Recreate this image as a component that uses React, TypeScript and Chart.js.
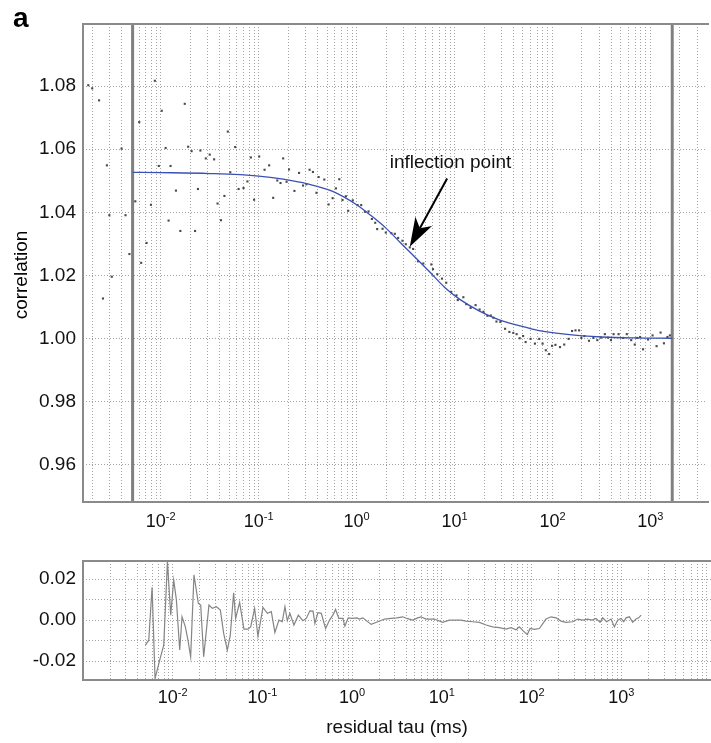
import React, { useEffect, useRef } from "react";
import { Chart, registerables } from "chart.js";

Chart.register(...registerables);

const FONT = "'Liberation Sans', Arial, Helvetica, sans-serif";

// ---------------- data ----------------
// correlation scatter: log10(tau / ms) and correlation value
const corrLogTau = [
  -2.74, -2.7, -2.63, -2.59, -2.55, -2.525, -2.5, -2.4, -2.36, -2.32, -2.26, -2.22, -2.2, -2.145, -2.1, -2.06,
  -2.02, -1.99, -1.95, -1.92, -1.9, -1.845, -1.8, -1.755, -1.72, -1.685, -1.65, -1.62, -1.595, -1.54, -1.5,
  -1.455, -1.42, -1.385, -1.35, -1.315, -1.29, -1.24, -1.205, -1.155, -1.115, -1.08, -1.047, -0.995, -0.94,
  -0.893, -0.852, -0.81, -0.777, -0.75, -0.715, -0.69, -0.635, -0.588, -0.547, -0.513, -0.48, -0.446, -0.41,
  -0.388, -0.33, -0.286, -0.245, -0.211, -0.177, -0.144, -0.11, -0.086, -0.039, 0.01, 0.047, 0.085, 0.122,
  0.156, 0.19, 0.21, 0.265, 0.298, 0.355, 0.39, 0.424, 0.468, 0.502, 0.543, 0.577, 0.627, 0.681, 0.763, 0.78,
  0.824, 0.872, 0.915, 0.966, 1.02, 1.033, 1.09, 1.12, 1.164, 1.215, 1.256, 1.295, 1.336, 1.37, 1.397, 1.428,
  1.468, 1.516, 1.56, 1.6, 1.634, 1.665, 1.7, 1.726, 1.776, 1.821, 1.865, 1.899, 1.932, 1.966, 1.996, 2.03,
  2.077, 2.12, 2.165, 2.2, 2.235, 2.272, 2.295, 2.326, 2.373, 2.418, 2.458, 2.494, 2.535, 2.566, 2.597, 2.624,
  2.675, 2.722, 2.759, 2.804, 2.84, 2.865, 2.895, 2.925, 2.976, 3.022, 3.063, 3.104, 3.138, 3.174, 3.199,
];
const corrValue = [
  1.0803, 1.0793, 1.0755, 1.0127, 1.0549, 1.0391, 1.0196, 1.0602, 1.0391, 1.0268, 1.0435, 1.0686, 1.024, 1.0303,
  1.0424, 1.0817, 1.0547, 1.0722, 1.0604, 1.0374, 1.0547, 1.0469, 1.0341, 1.0744, 1.0608, 1.0594, 1.0341, 1.0474,
  1.0596, 1.0571, 1.0583, 1.0568, 1.0428, 1.0375, 1.0452, 1.0656, 1.0527, 1.0607, 1.0474, 1.0477, 1.0498, 1.0574,
  1.044, 1.0577, 1.0535, 1.0549, 1.0446, 1.0501, 1.0493, 1.0571, 1.0497, 1.0536, 1.0468, 1.0525, 1.0485, 1.0489,
  1.0535, 1.0528, 1.0462, 1.0512, 1.0504, 1.0425, 1.0445, 1.0476, 1.0505, 1.0439, 1.0451, 1.0405, 1.0438, 1.0423,
  1.0423, 1.0402, 1.0403, 1.0379, 1.0367, 1.0347, 1.0348, 1.0336, 1.0334, 1.0332, 1.0319, 1.031, 1.0299, 1.0289,
  1.0284, 1.0245, 1.0238, 1.0235, 1.022, 1.0204, 1.019, 1.0177, 1.0148, 1.0137, 1.0122, 1.0131, 1.0109, 1.0097,
  1.0106, 1.0092, 1.0085, 1.0072, 1.0073, 1.0066, 1.0054, 1.0053, 1.0031, 1.0021, 1.0018, 1.0014, 1.0001, 1.0008,
  0.9989, 0.9999, 0.9984, 0.9999, 0.9984, 0.9963, 0.9951, 0.9977, 0.998, 0.9973, 0.9981, 0.9999, 1.0024, 1.0026,
  1.0026, 1.0002, 1.0008, 0.9993, 1.0002, 0.9995, 1.0003, 1.0014, 1.0003, 0.9995, 1.0014, 1.0014, 1.0002, 1.0014,
  0.9995, 0.9981, 1.0002, 1.0005, 0.9966, 0.9997, 1.001, 0.9976, 1.0019, 0.9985, 1.0005, 1.001,
];

// fitted curve (blue)
const fitLogTau = [
  -2.287, -2.0, -1.5, -1.0, -0.75, -0.5, -0.25, 0.0, 0.15, 0.3, 0.45, 0.6, 0.75, 0.9, 1.05, 1.25, 1.45, 1.65,
  1.85, 2.15, 2.5, 2.85, 3.223,
];
const fitValue = [
  1.0527, 1.0526, 1.0523, 1.0515, 1.0505, 1.049, 1.0467, 1.0424, 1.0389, 1.035, 1.0303, 1.0257, 1.021, 1.0162,
  1.0125, 1.0088, 1.006, 1.0042, 1.0026, 1.0013, 1.0005, 1.0002, 1.0001,
];

// fit range markers (thick grey verticals), tau in ms
const fitRangeTau = [0.00516, 1671];

// residuals: log10(tau / ms) and residual value
const residualLogTau = [
  -2.304, -2.267, -2.23, -2.197, -2.145, -2.1, -2.059, -2.022, -1.989, -1.959, -1.922, -1.896, -1.859, -1.83,
  -1.8, -1.763, -1.714, -1.688, -1.655, -1.596, -1.558, -1.513, -1.469, -1.432, -1.391, -1.358, -1.321, -1.299,
  -1.254, -1.206, -1.162, -1.131, -1.087, -1.05, -0.994, -0.945, -0.901, -0.861, -0.816, -0.779, -0.749, -0.723,
  -0.694, -0.649, -0.6, -0.549, -0.511, -0.471, -0.436, -0.415, -0.381, -0.344, -0.296, -0.252, -0.215, -0.185,
  -0.148, -0.104, -0.081, -0.044, 0.0, 0.052, 0.082, 0.119, 0.212, 0.286, 0.361, 0.435, 0.497, 0.564, 0.609,
  0.676, 0.731, 0.768, 0.824, 0.917, 1.009, 1.084, 1.159, 1.214, 1.27, 1.344, 1.419, 1.493, 1.567, 1.641, 1.716,
  1.771, 1.827, 1.864, 1.909, 1.953, 1.983, 2.031, 2.087, 2.161, 2.217, 2.273, 2.328, 2.384, 2.458, 2.514, 2.57,
  2.625, 2.674, 2.718, 2.763, 2.792, 2.837, 2.886, 2.923, 2.96, 2.997, 3.027, 3.053, 3.09, 3.127, 3.164, 3.194,
  3.221,
];
const residualValue = [
  -0.0122, -0.0098, 0.016, -0.0285, -0.0195, -0.0122, 0.0285, 0.0024, 0.0195, 0.0098, -0.0146, 0.0016, -0.0033,
  -0.0098, -0.0179, 0.022, 0.0081, 0.0073, -0.0179, 0.0073, 0.0057, 0.0065, 0.0049, -0.0065, -0.0146, -0.0073,
  0.0133, 0.0008, 0.0086, -0.0044, -0.0044, -0.0033, 0.0057, -0.0078, 0.0062, 0.0033, 0.0041, -0.006, 0.0,
  -0.0008, 0.0065, -0.0003, 0.0033, -0.0024, 0.0024, -0.0003, 0.0008, 0.0045, 0.0044, -0.0016, 0.0036, 0.0033,
  -0.0041, 0.0, 0.0024, 0.0052, 0.0008, 0.0008, -0.0029, 0.0011, 0.0008, 0.0011, 0.0005, 0.0011, -0.0021, -0.0008,
  0.0005, 0.0008, 0.0011, 0.0016, 0.0008, 0.0, 0.0011, 0.0016, 0.0005, 0.0005, -0.0011, 0.0, 0.0, 0.0, -0.0005,
  -0.0008, -0.0011, -0.0024, -0.0033, -0.0037, -0.0044, -0.0037, -0.0047, -0.0033, -0.0054, -0.007, -0.0041,
  -0.0045, -0.0041, 0.0005, 0.0016, 0.0011, -0.0005, -0.0011, -0.0008, 0.0005, 0.0, 0.0005, 0.0, 0.0008, -0.0011,
  0.0011, -0.0008, 0.0005, -0.0033, 0.0, 0.0008, -0.0008, 0.0011, 0.0016, -0.0011, 0.0005, 0.0011, 0.0024,
];

// axis ticks / labels
const topYTicks = [0.96, 0.98, 1.0, 1.02, 1.04, 1.06, 1.08];
const bottomYTicks = [-0.02, -0.01, 0, 0.01, 0.02];
const bottomYLabelled = [-0.02, 0, 0.02];
const decadeLabels = [-2, -1, 0, 1, 2, 3];

// annotation (data coordinates)
const annotationLabel = "inflection point";
const annotationTextAt = { x: 2.18, y: 1.0542 };
const arrowTail = { x: 8.4, y: 1.0507 };
const arrowTip = { x: 3.49, y: 1.0291 };

const panelLabel = "a";
const yTitle = "correlation";
const xTitle = "residual tau (ms)";

// axis limits
const TOP_X = { min: 0.001607, max: 3784 };
const TOP_Y = { min: 0.9482, max: 1.0997 };
const BOT_X = { min: 0.001, max: 10000 };
const BOT_Y = { min: -0.0292, max: 0.0288 };

const GRID_COLOR = "#a3a3a3";
const BORDER_COLOR = "#8a8a8a";

function logGrid(min: number, max: number): number[] {
  const out: number[] = [];
  const e0 = Math.floor(Math.log10(min));
  const e1 = Math.ceil(Math.log10(max));
  for (let e = e0; e <= e1; e++) {
    for (let k = 1; k <= 9; k++) {
      const v = parseFloat((k * Math.pow(10, e)).toPrecision(6));
      if (v > min * 1.0001 && v < max * 0.9999) out.push(v);
    }
  }
  return out;
}

const toPts = (lx: number[], ys: number[]) => lx.map((l, i) => ({ x: Math.pow(10, l), y: ys[i] }));

function drawFrame(chart: any) {
  const { ctx, chartArea: a } = chart;
  ctx.save();
  ctx.strokeStyle = BORDER_COLOR;
  ctx.lineWidth = 2;
  ctx.beginPath();
  ctx.moveTo(a.right + 2, a.top);
  ctx.lineTo(a.left, a.top);
  ctx.lineTo(a.left, a.bottom);
  ctx.lineTo(a.right + 2, a.bottom);
  ctx.stroke();
  ctx.restore();
}

function drawDecadeLabels(chart: any, mainOff: number, expOff: number) {
  const { ctx, chartArea: a } = chart;
  const xs = chart.scales.x;
  ctx.save();
  ctx.fillStyle = "#111";
  ctx.textAlign = "left";
  ctx.textBaseline = "alphabetic";
  for (const e of decadeLabels) {
    const px = xs.getPixelForValue(Math.pow(10, e));
    ctx.font = `18px ${FONT}`;
    const wb = ctx.measureText("10").width;
    const es = String(e);
    ctx.font = `11px ${FONT}`;
    const we = ctx.measureText(es).width;
    const start = px - (wb + we) / 2;
    ctx.font = `18px ${FONT}`;
    ctx.fillText("10", start, a.bottom + mainOff);
    ctx.font = `11px ${FONT}`;
    ctx.fillText(es, start + wb, a.bottom + expOff);
  }
  ctx.restore();
}

const topDecor = {
  id: "topDecor",
  afterDatasetsDraw(chart: any) {
    const { ctx } = chart;
    const xs = chart.scales.x;
    const ys = chart.scales.y;
    // annotation text
    ctx.save();
    ctx.fillStyle = "#111";
    ctx.font = `19px ${FONT}`;
    ctx.textAlign = "left";
    ctx.textBaseline = "alphabetic";
    ctx.fillText(annotationLabel, xs.getPixelForValue(annotationTextAt.x), ys.getPixelForValue(annotationTextAt.y));
    // arrow
    const tx = xs.getPixelForValue(arrowTail.x);
    const ty = ys.getPixelForValue(arrowTail.y);
    const hx = xs.getPixelForValue(arrowTip.x);
    const hy = ys.getPixelForValue(arrowTip.y);
    const dx = tx - hx;
    const dy = ty - hy;
    const len = Math.hypot(dx, dy);
    const ux = dx / len;
    const uy = dy / len;
    const nx = -uy;
    const ny = ux;
    const headLen = 29;
    const notch = 21;
    const half = 9.5;
    ctx.strokeStyle = "#000";
    ctx.lineWidth = 2;
    ctx.beginPath();
    ctx.moveTo(tx, ty);
    ctx.lineTo(hx + ux * notch, hy + uy * notch);
    ctx.stroke();
    ctx.fillStyle = "#000";
    ctx.beginPath();
    ctx.moveTo(hx, hy);
    ctx.lineTo(hx + ux * headLen + nx * half, hy + uy * headLen + ny * half);
    ctx.lineTo(hx + ux * notch, hy + uy * notch);
    ctx.lineTo(hx + ux * headLen - nx * half, hy + uy * headLen - ny * half);
    ctx.closePath();
    ctx.fill();
    ctx.restore();
  },
  afterDraw(chart: any) {
    const { ctx, chartArea: a } = chart;
    drawFrame(chart);
    drawDecadeLabels(chart, 25, 18);
    ctx.save();
    ctx.fillStyle = "#000";
    ctx.font = `bold 28px ${FONT}`;
    ctx.textAlign = "left";
    ctx.textBaseline = "alphabetic";
    ctx.fillText(panelLabel, 13, 27);
    ctx.font = `19px ${FONT}`;
    ctx.translate(22, (a.top + a.bottom) / 2 + 12);
    ctx.rotate(-Math.PI / 2);
    ctx.textAlign = "center";
    ctx.textBaseline = "middle";
    ctx.fillText(yTitle, 0, 0);
    ctx.restore();
  },
};

const bottomDecor = {
  id: "bottomDecor",
  afterDraw(chart: any) {
    const { ctx, chartArea: a } = chart;
    drawFrame(chart);
    drawDecadeLabels(chart, 23, 16);
    ctx.save();
    ctx.fillStyle = "#111";
    ctx.font = `19px ${FONT}`;
    ctx.textAlign = "center";
    ctx.textBaseline = "alphabetic";
    ctx.fillText(xTitle, (a.left + a.right) / 2, a.bottom + 53);
    ctx.restore();
  },
};

function xScale(lim: { min: number; max: number }, height: number) {
  return {
    type: "logarithmic",
    min: lim.min,
    max: lim.max,
    afterBuildTicks: (s: any) => {
      s.ticks = logGrid(lim.min, lim.max).map((v) => ({ value: v }));
    },
    afterFit: (s: any) => {
      s.height = height;
      s.paddingLeft = 0;
      s.paddingRight = 0;
    },
    ticks: { display: false },
    grid: { color: GRID_COLOR, lineWidth: 1, drawTicks: false },
    border: { display: false, dash: [1, 2] },
  };
}

function yScale(lim: { min: number; max: number }, ticks: number[], labelled: number[]) {
  return {
    type: "linear",
    min: lim.min,
    max: lim.max,
    afterBuildTicks: (s: any) => {
      s.ticks = ticks.map((v) => ({ value: v }));
    },
    afterFit: (s: any) => {
      s.width = 83;
      s.paddingTop = 0;
      s.paddingBottom = 0;
    },
    ticks: {
      color: "#111",
      padding: 7,
      font: { family: FONT, size: 19 },
      callback: (v: any) => (labelled.some((l) => Math.abs(l - v) < 1e-9) ? Number(v).toFixed(2) : ""),
    },
    grid: { color: GRID_COLOR, lineWidth: 1, drawTicks: false },
    border: { display: false, dash: [1, 2] },
  };
}

export default function App() {
  const topRef = useRef<HTMLCanvasElement | null>(null);
  const botRef = useRef<HTMLCanvasElement | null>(null);

  useEffect(() => {
    document.body.style.margin = "0";
    const top = new Chart(topRef.current as HTMLCanvasElement, {
      type: "scatter",
      data: {
        datasets: [
          {
            type: "line",
            label: "fit",
            data: toPts(fitLogTau, fitValue),
            borderColor: "#3a50b4",
            borderWidth: 1.3,
            pointRadius: 0,
            cubicInterpolationMode: "monotone",
            fill: false,
          },
          {
            label: "correlation",
            data: toPts(corrLogTau, corrValue),
            pointStyle: "rect",
            pointRadius: 1.5,
            backgroundColor: "#4a4a4a",
            borderWidth: 0,
          },
          {
            type: "line",
            label: "fit start",
            data: [
              { x: fitRangeTau[0], y: TOP_Y.min },
              { x: fitRangeTau[0], y: TOP_Y.max },
            ],
            borderColor: "#808080",
            borderWidth: 3,
            pointRadius: 0,
          },
          {
            type: "line",
            label: "fit end",
            data: [
              { x: fitRangeTau[1], y: TOP_Y.min },
              { x: fitRangeTau[1], y: TOP_Y.max },
            ],
            borderColor: "#808080",
            borderWidth: 3,
            pointRadius: 0,
          },
        ],
      } as any,
      options: {
        animation: false,
        responsive: false,
        maintainAspectRatio: false,
        devicePixelRatio: 1,
        events: [],
        layout: { padding: { top: 24, left: 0, right: 0, bottom: 0 } },
        plugins: { legend: { display: false }, tooltip: { enabled: false }, title: { display: false } },
        scales: {
          x: xScale(TOP_X, 43),
          y: yScale(TOP_Y, topYTicks, topYTicks),
        },
      } as any,
      plugins: [topDecor],
    });

    const bot = new Chart(botRef.current as HTMLCanvasElement, {
      type: "line",
      data: {
        datasets: [
          {
            label: "residual",
            data: toPts(residualLogTau, residualValue),
            borderColor: "#858585",
            borderWidth: 1.2,
            pointRadius: 0,
            tension: 0,
            fill: false,
          },
        ],
      } as any,
      options: {
        animation: false,
        responsive: false,
        maintainAspectRatio: false,
        devicePixelRatio: 1,
        events: [],
        layout: { padding: { top: 16, left: 0, right: 0, bottom: 0 } },
        plugins: { legend: { display: false }, tooltip: { enabled: false } },
        scales: {
          x: xScale(BOT_X, 63),
          y: yScale(BOT_Y, bottomYTicks, bottomYLabelled),
        },
      } as any,
      plugins: [bottomDecor],
    });

    return () => {
      top.destroy();
      bot.destroy();
    };
  }, []);

  return (
    <div style={{ position: "relative", width: 711, height: 743, overflow: "hidden", background: "#fff" }}>
      <canvas
        ref={topRef}
        width={711}
        height={545}
        style={{ position: "absolute", left: 0, top: 0, width: 711, height: 545, display: "block" }}
      />
      <canvas
        ref={botRef}
        width={711}
        height={198}
        style={{ position: "absolute", left: 0, top: 545, width: 711, height: 198, display: "block" }}
      />
    </div>
  );
}
